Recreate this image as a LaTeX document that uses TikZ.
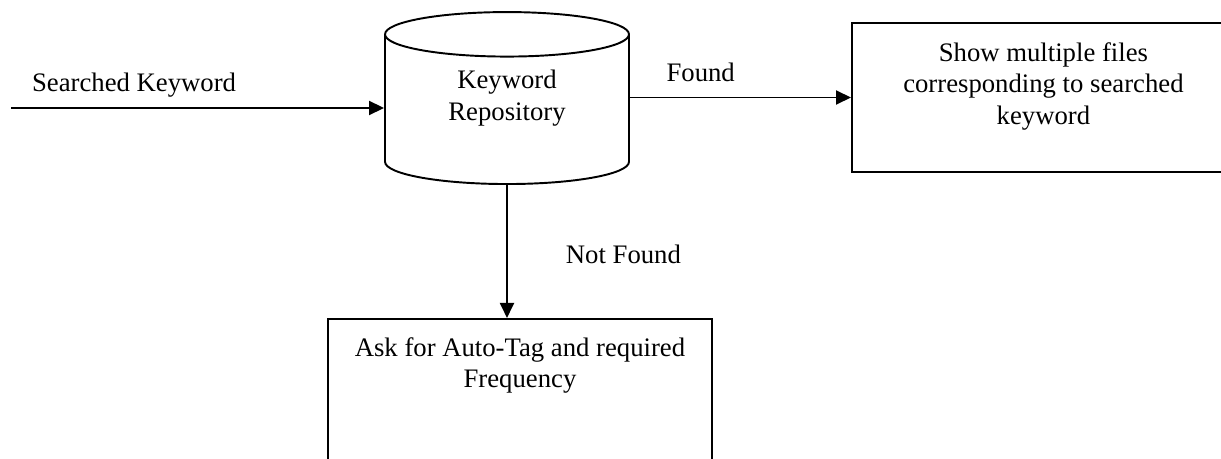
\documentclass[tikz,border=0pt]{standalone}
\usepackage{fontspec}
\setmainfont{Liberation Serif}
\usetikzlibrary{shapes.geometric, arrows.meta, positioning, calc}

\begin{document}
\begin{tikzpicture}[
  x=0.02cm, y=-0.02cm,
  store/.style={draw, cylinder, shape border rotate=90, aspect=3.8,
    minimum width=48.8mm, minimum height=34.4mm, line width=1.1pt},
  box/.style={draw, rectangle, line width=1.1pt},
  txt/.style={font=\fontsize{15.2}{17.9}\selectfont, align=center,
    inner sep=0pt},
  lbl/.style={font=\fontsize{15.2}{17.9}\selectfont, inner sep=0pt},
  arr/.style={-{Triangle[length=3mm, width=2.8mm]}, line width=1.1pt},
]
  \useasboundingbox (0,0) rectangle (1221,459);
  \clip (0,0) rectangle (1221,459);

  % -- Repository and result boxes --
  \node[store, anchor=south] (repo) at (507,185) {};
  \node[txt] (repotxt) at ($(repo.north)!0.5!(repo.south)$)
    {Keyword\\Repository};
  \node[box, minimum width=76.6mm, minimum height=29.8mm, anchor=west]
    (show) at (851,97.5) {};
  \node[txt, below=4mm of show.north] (showtxt)
    {Show multiple files\\corresponding to searched\\keyword};
  \node[box, minimum width=76.8mm, minimum height=40mm,
    below=26.6mm of repo, xshift=2.6mm] (ask) {};
  \node[txt, below=3.8mm of ask.north] (asktxt)
    {Ask for Auto-Tag and required\\Frequency};

  % -- Arrows --
  \coordinate (start) at (11,108);
  \draw[arr] (start) -- (start -| repo.west)
    node[lbl, pos=0.33, above=2mm] (kwlbl) {Searched Keyword};
  \draw[arr] (repo.east |- show.west) -- (show.west)
    node[lbl, pos=0.32, above=3mm] (foundlbl) {Found};
  \draw[arr] (repo.south) -- (repo.south |- ask.north)
    node[lbl, pos=0.52, right=11.6mm] (nflbl) {Not Found};
\end{tikzpicture}
\end{document}
